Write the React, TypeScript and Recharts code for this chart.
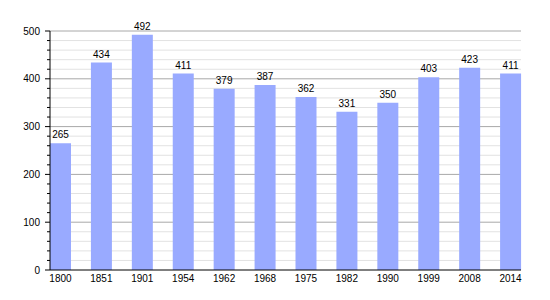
import { BarChart, Bar, XAxis, YAxis, CartesianGrid, LabelList } from 'recharts';

const years = ['1800', '1851', '1901', '1954', '1962', '1968', '1975', '1982', '1990', '1999', '2008', '2014'];
const population = [265, 434, 492, 411, 379, 387, 362, 331, 350, 403, 423, 411];
const majorTicks = [0, 100, 200, 300, 400, 500];
const minorTicks = [
  20, 40, 60, 80, 120, 140, 160, 180, 220, 240, 260, 280,
  320, 340, 360, 380, 420, 440, 460, 480,
];

const data = years.map((year, i) => ({ year, value: population[i] }));
const allTicks = [...majorTicks, ...minorTicks].sort((a, b) => a - b);

const FONT = '"Liberation Sans", Arial, sans-serif';
const AXIS_X = 50;

const YTick = ({ y, payload }: any) => {
  const major = majorTicks.includes(payload.value);
  return (
    <g>
      <line x1={AXIS_X - (major ? 5 : 3)} x2={AXIS_X} y1={y} y2={y} stroke="#000" />
      {major && (
        <text x={AXIS_X - 10} y={y} dy="0.35em" textAnchor="end" fontSize={10} fontFamily={FONT} fill="#000">
          {payload.value}
        </text>
      )}
    </g>
  );
};

export default function App() {
  return (
    <div style={{ position: 'absolute', left: 0, top: 0, background: '#fff' }}>
      <BarChart width={550} height={300} data={data} margin={{ top: 31, right: 29, left: 0, bottom: 0 }}>
        <CartesianGrid vertical={false} horizontalValues={minorTicks} stroke="#e2e2e2" />
        <CartesianGrid vertical={false} horizontalValues={majorTicks.filter((v) => v > 0)} stroke="#a8a8a8" />
        <XAxis
          dataKey="year"
          padding={{ left: -10, right: -10 }}
          height={30}
          tickLine={false}
          tickSize={0}
          tickMargin={5}
          axisLine={{ stroke: '#000' }}
          tick={{ fontSize: 10, fontFamily: FONT, fill: '#000' }}
          interval={0}
        />
        <YAxis
          width={50}
          domain={[0, 500]}
          ticks={allTicks}
          interval={0}
          tickLine={false}
          axisLine={{ stroke: '#000' }}
          tick={<YTick />}
        />
        <Bar dataKey="value" fill="#99aaff" barSize={21} isAnimationActive={false}>
          <LabelList dataKey="value" position="top" offset={5} fontSize={10} fontFamily={FONT} fill="#000" />
        </Bar>
      </BarChart>
    </div>
  );
}
